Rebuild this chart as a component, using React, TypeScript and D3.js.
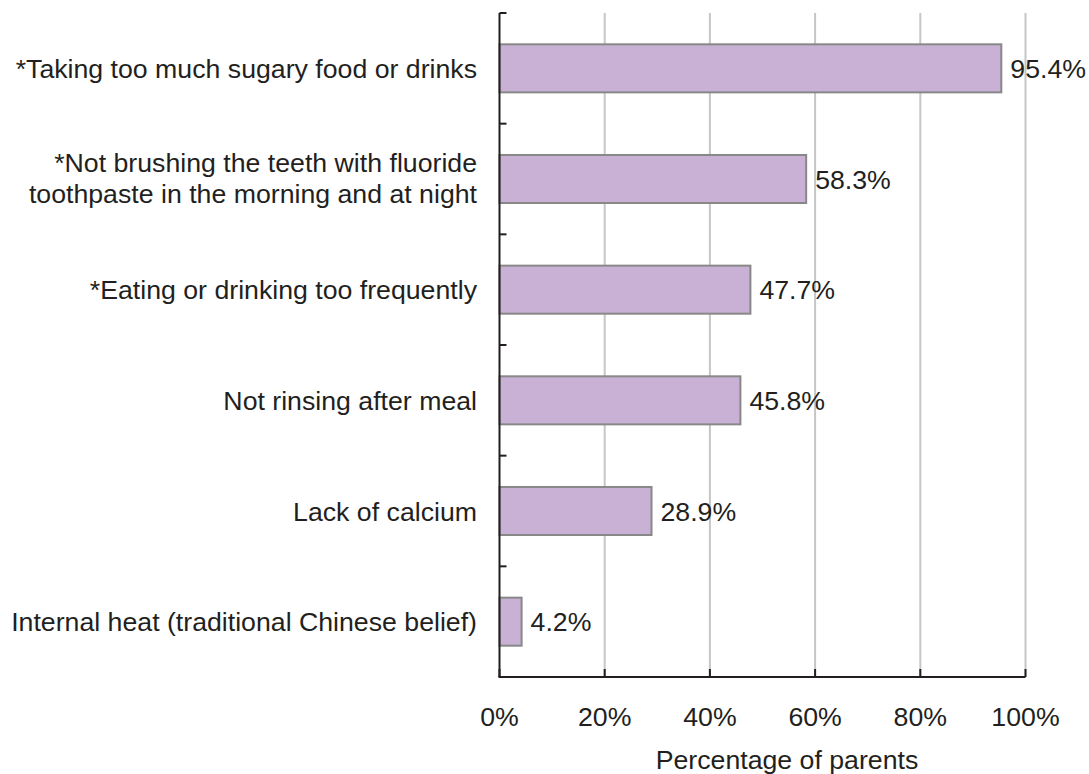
import React from "react";
import * as d3 from "d3";

const categories = [
  "*Taking too much sugary food or drinks",
  "*Not brushing the teeth with fluoride|toothpaste in the morning and at night",
  "*Eating or drinking too frequently",
  "Not rinsing after meal",
  "Lack of calcium",
  "Internal heat (traditional Chinese belief)",
];
const values = [95.4, 58.3, 47.7, 45.8, 28.9, 4.2];
const xTicks = [0, 20, 40, 60, 80, 100];
const xTitle = "Percentage of parents";

export default function App() {
  const W = 1089, H = 774;
  const left = 499.5, right = 1025.5, top = 13, bottom = 677;
  const x = d3.scaleLinear().domain([0, 100]).range([left, right]);
  const y = d3.scaleBand<number>().domain(d3.range(categories.length)).range([top, bottom]).paddingInner(0.566).paddingOuter(0.283);
  const band = (bottom - top) / categories.length;
  const font = "Liberation Sans, Arial, sans-serif";
  const fs = 26.7;
  const textColor = "#231f20";
  return (
    <svg width={W} height={H} style={{ position: "absolute", left: 0, top: 0, background: "#fff" }} fontFamily={font}>
      {xTicks.slice(1).map((t) => (
        <line key={"g" + t} x1={x(t)} x2={x(t)} y1={top} y2={bottom} stroke="#c6c6c6" strokeWidth={2} />
      ))}
      {values.map((v, i) => (
        <rect key={"b" + i} x={x(0)} y={y(i)!} width={x(v) - x(0)} height={y.bandwidth()} fill="#c8b1d4" stroke="#888888" strokeWidth={2} />
      ))}
      {values.map((v, i) => (
        <text key={"v" + i} x={x(v) + 9} y={y(i)! + y.bandwidth() / 2} dy="0.36em" fontSize={fs} fill={textColor}>
          {v.toFixed(1)}%
        </text>
      ))}
      {categories.map((c, i) => {
        const lines = c.split("|");
        const cy = y(i)! + y.bandwidth() / 2 - (lines.length > 1 ? 1.5 : 0);
        const lh = 31;
        return (
          <text key={"c" + i} x={477} textAnchor="end" fontSize={fs} fill={textColor}>
            {lines.map((l, j) => (
              <tspan key={j} x={477} y={cy + (j - (lines.length - 1) / 2) * lh} dy="0.36em">{l}</tspan>
            ))}
          </text>
        );
      })}
      <line x1={left} x2={left} y1={top} y2={bottom} stroke="#231f20" strokeWidth={2} />
      <line x1={left - 1} x2={right} y1={bottom} y2={bottom} stroke="#231f20" strokeWidth={2} />
      {d3.range(categories.length + 1).map((k) => (
        <line key={"yt" + k} x1={left} x2={left + 7} y1={top + k * band} y2={top + k * band} stroke="#231f20" strokeWidth={2} />
      ))}
      {xTicks.map((t) => (
        <line key={"xt" + t} x1={x(t)} x2={x(t)} y1={bottom} y2={bottom - 8} stroke="#231f20" strokeWidth={2} />
      ))}
      {xTicks.map((t) => (
        <text key={"xl" + t} x={x(t)} y={716} dy="0.36em" textAnchor="middle" fontSize={fs} fill={textColor}>
          {t}%
        </text>
      ))}
      <text x={787} y={759} dy="0.36em" textAnchor="middle" fontSize={fs} fill={textColor}>
        {xTitle}
      </text>
    </svg>
  );
}
